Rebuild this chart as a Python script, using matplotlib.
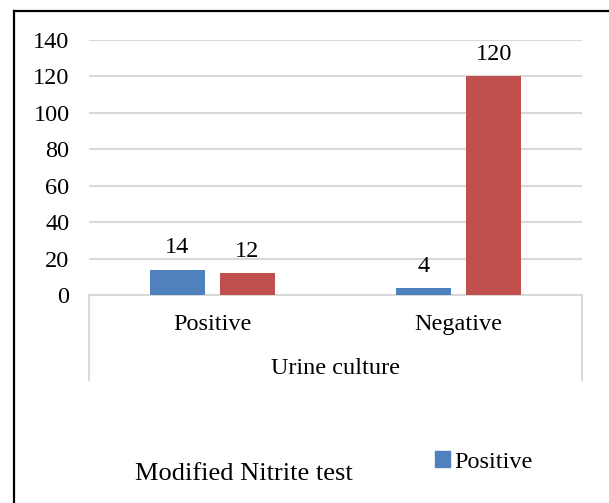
import numpy as np
import matplotlib.pyplot as plt
from matplotlib.lines import Line2D
from matplotlib.patches import Patch

# data
categories = ['Positive', 'Negative']        # urine culture
nitrite_pos = [14, 4]                        # modified nitrite test positive
nitrite_neg = [12, 120]                      # modified nitrite test negative
yticks = [0, 20, 40, 60, 80, 100, 120, 140]

blue = '#4f81bd'
red = '#c0504d'
grid_c = '#d9d9d9'

plt.rcParams['font.family'] = ['Liberation Serif', 'DejaVu Serif']

W, H = 609, 503
fig = plt.figure(figsize=(W / 100, H / 100), dpi=100)


def fx(px):
    return px / W


def fy(py):
    return 1 - py / H


# plot area (pixel box of the reference)
x0, x1, ytop, ybot = 89, 582, 40, 295
ax = fig.add_axes([fx(x0), fy(ybot), fx(x1) - fx(x0), fy(ytop) - fy(ybot)])

x = np.arange(len(categories))
bw = 0.223
off = 0.142
b1 = ax.bar(x - off, nitrite_pos, bw, color=blue, label='Positive', zorder=3)
b2 = ax.bar(x + off, nitrite_neg, bw, color=red, label='Negative', zorder=3)

for bars, vals in ((b1, nitrite_pos), (b2, nitrite_neg)):
    for b, v in zip(bars, vals):
        ax.annotate(str(v), (b.get_x() + b.get_width() / 2, v),
                    xytext=(0, 8), textcoords='offset points',
                    ha='center', va='bottom', fontsize=17.5)

ax.set_xlim(-0.5, 1.5)
ax.set_ylim(0, 140)
ax.set_yticks(yticks)
ax.tick_params(axis='y', length=0, labelsize=17.5, pad=14)
ax.set_xticks(x)
ax.set_xticklabels(categories, fontsize=17.5)
ax.tick_params(axis='x', length=0, pad=14)
ax.yaxis.grid(True, color=grid_c, linewidth=1.5, zorder=0)
for s in ['top', 'right', 'left']:
    ax.spines[s].set_visible(False)
ax.spines['bottom'].set_color(grid_c)
ax.spines['bottom'].set_linewidth(1.5)
ax.set_xlabel('Urine culture', fontsize=17.5, labelpad=16)

# multi-level category box lines
for px in (x0, x1):
    fig.add_artist(Line2D([fx(px), fx(px)], [fy(ybot), fy(380)],
                          color=grid_c, linewidth=1.5))

# outer frame (left and top edges visible)
fig.add_artist(Line2D([fx(14), fx(14)], [fy(11), 0], color='black', linewidth=1.6))
fig.add_artist(Line2D([fx(14), 1], [fy(11), fy(11)], color='black', linewidth=1.6))

fig.text(fx(244), fy(474), 'Modified Nitrite test', ha='center', va='center',
         fontsize=19)
fig.legend(handles=[Patch(color=blue, label='Positive')], loc='center left',
           bbox_to_anchor=(fx(435), fy(462)), frameon=False, fontsize=17.5,
           handlelength=0.6, handleheight=0.6, handletextpad=0.2,
           borderpad=0, borderaxespad=0)

fig.savefig('out.png', dpi=100)
